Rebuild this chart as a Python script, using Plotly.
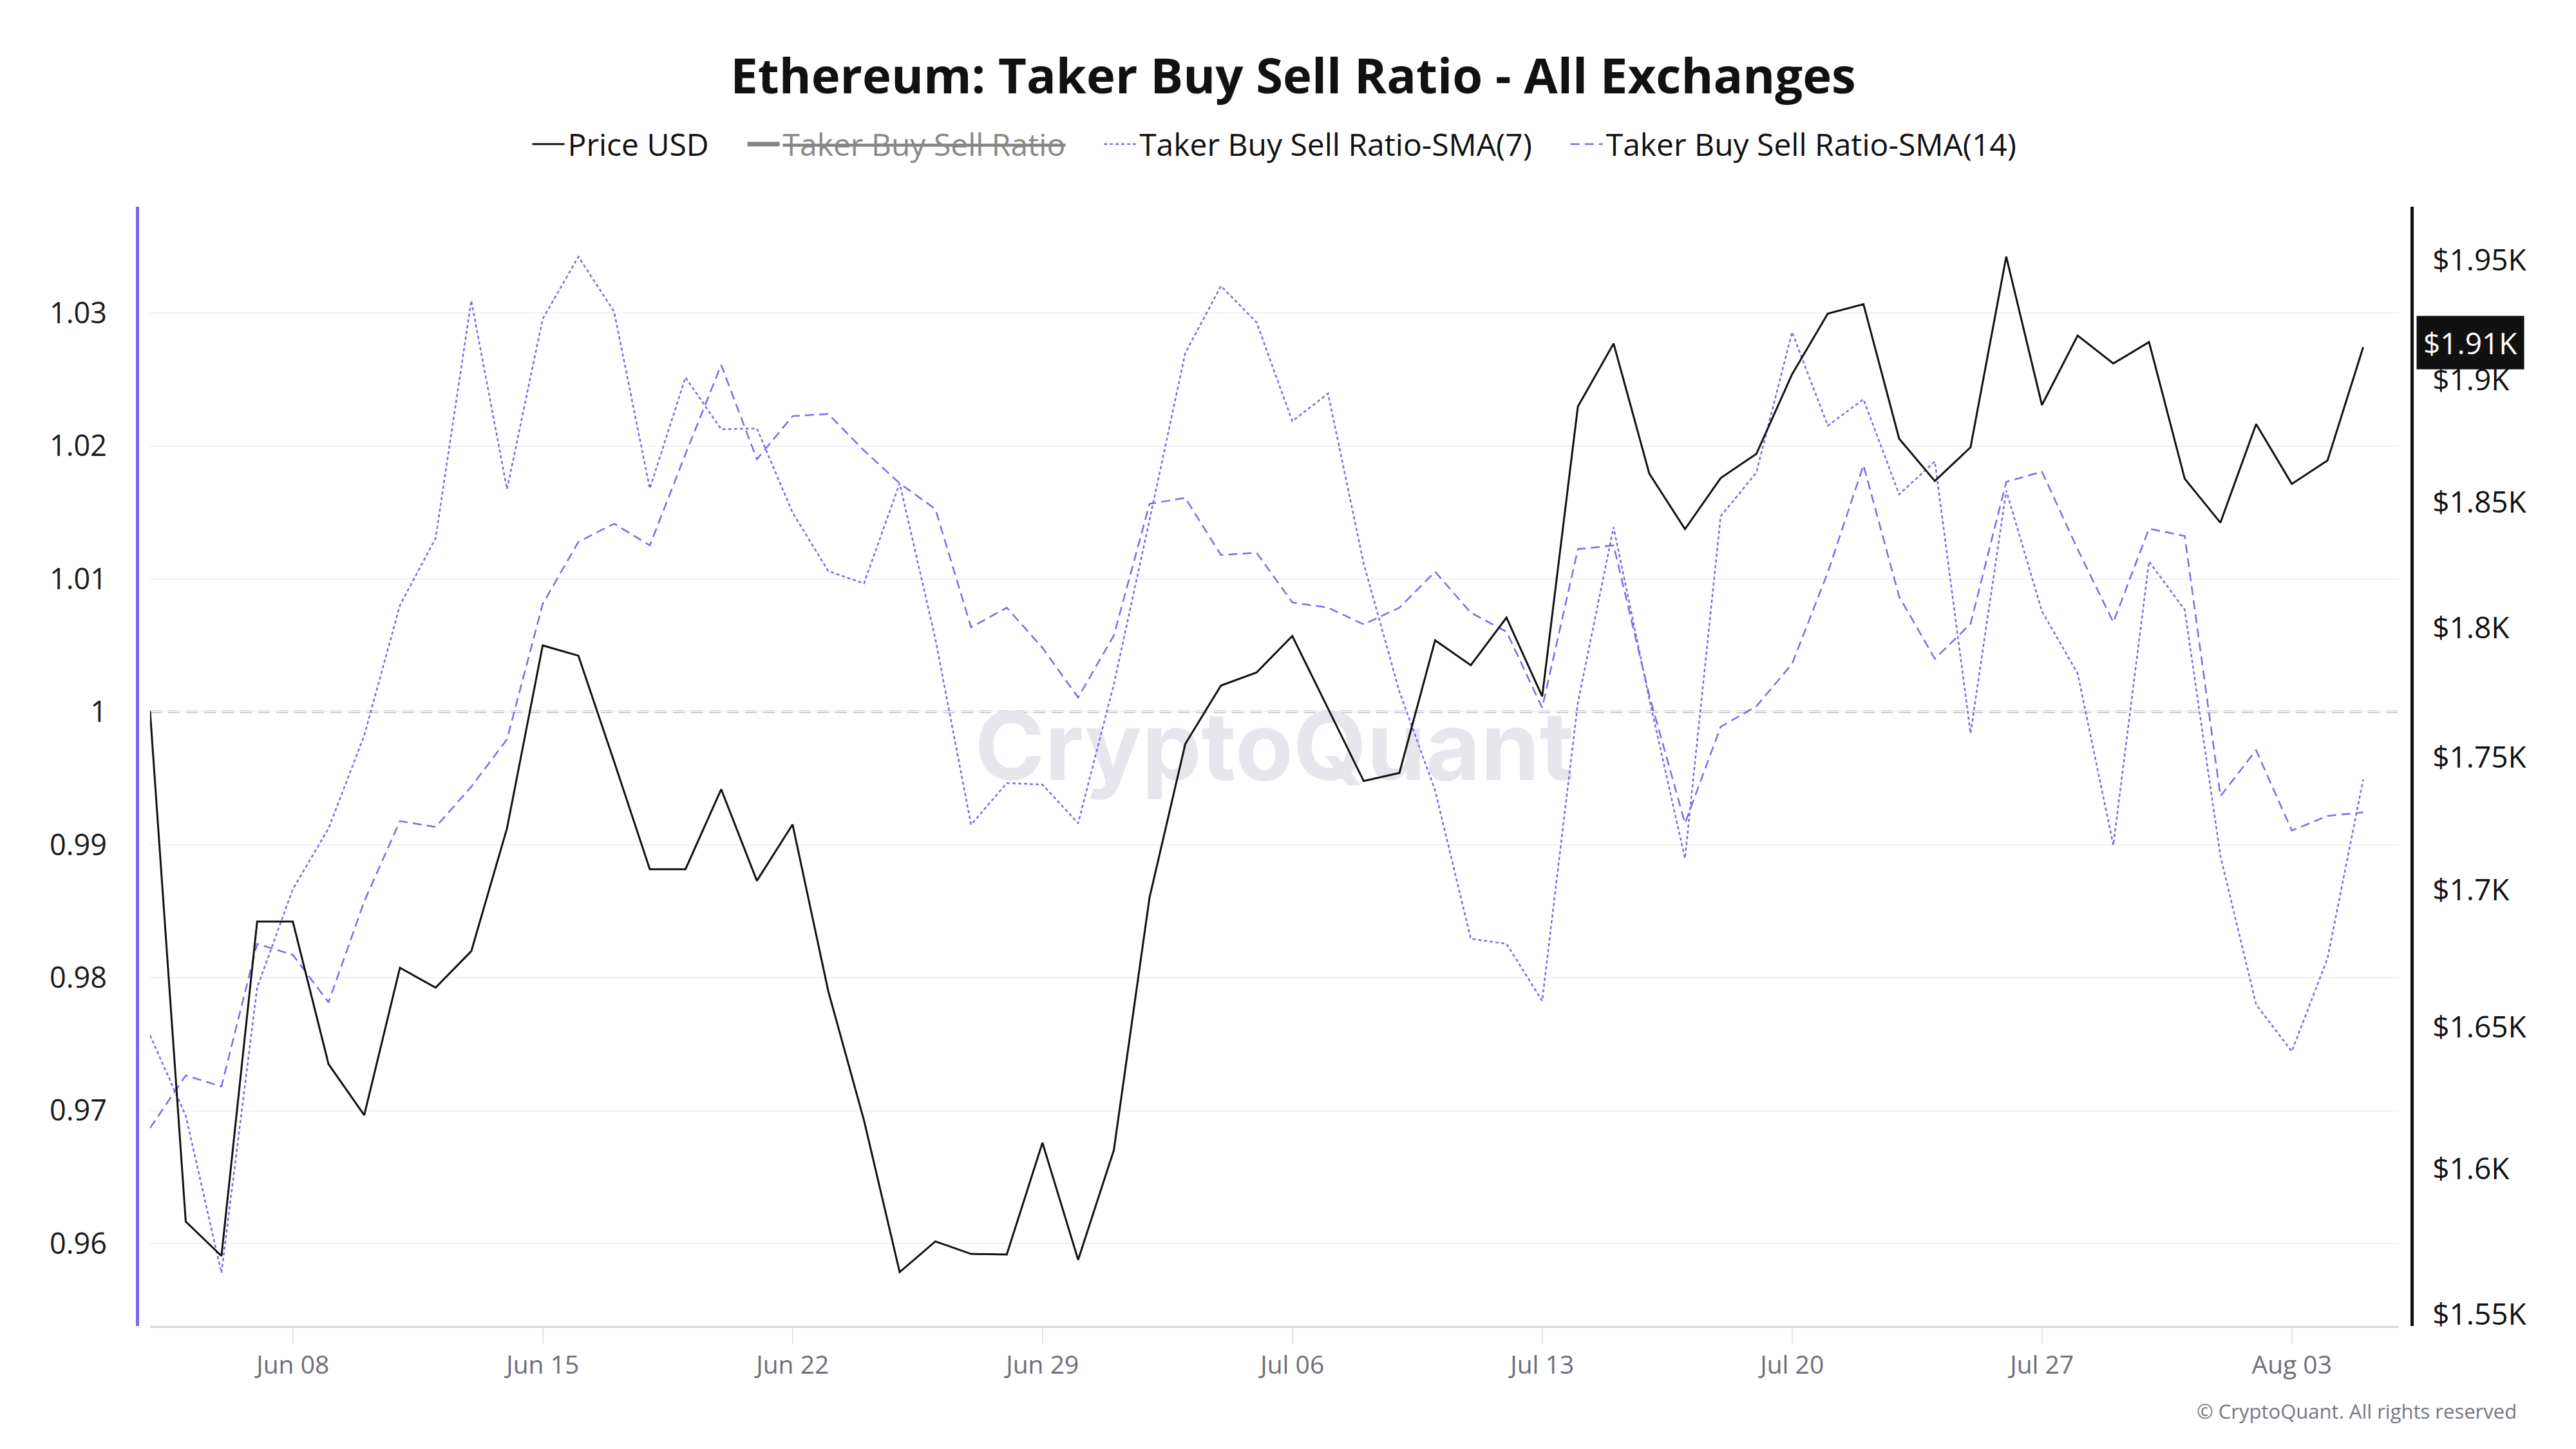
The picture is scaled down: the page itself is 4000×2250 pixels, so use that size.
import math
import pandas as pd
import plotly.graph_objects as go

# ---------------- data ----------------
start_date = "2023-06-04"

price_usd = [1767.6, 1581.6, 1569.8, 1688.4, 1688.4, 1636.8, 1618.7, 1671.5, 1664.3, 1677.6,
             1723.1, 1793.1, 1789.1, 1748.3, 1707.8, 1707.8, 1737.8, 1703.5, 1724.5, 1663.0,
             1616.9, 1564.3, 1574.8, 1570.5, 1570.3, 1609.0, 1568.5, 1606.4, 1697.3, 1755.0,
             1777.5, 1782.6, 1796.8, 1768.6, 1740.9, 1744.0, 1795.1, 1785.4, 1804.0, 1773.3,
             1888.9, 1915.0, 1861.5, 1839.1, 1859.7, 1869.5, 1902.2, 1927.5, 1931.5, 1875.7,
             1858.5, 1872.2, 1951.6, 1889.5, 1918.3, 1906.7, 1915.6, 1859.4, 1841.7, 1881.7,
             1857.3, 1866.8, 1913.5]

sma7 = [0.97567, 0.96962, 0.95780, 0.97925, 0.98667, 0.99123, 0.99822, 1.00801, 1.01307, 1.03094,
        1.01675, 1.02956, 1.03424, 1.03011, 1.01680, 1.02516, 1.02126, 1.02132, 1.01499, 1.01059,
        1.00966, 1.01719, 1.00548, 0.99151, 0.99464, 0.99453, 0.99162, 1.00207, 1.01444, 1.02698,
        1.03204, 1.02929, 1.02186, 1.02395, 1.01114, 1.00152, 0.99409, 0.98293, 0.98255, 0.97826,
        1.00069, 1.01389, 1.00097, 0.98898, 1.01471, 1.01801, 1.02857, 1.02153, 1.02351, 1.01636,
        1.01884, 0.99838, 1.01664, 1.00757, 1.00289, 0.98997, 1.01131, 1.00768, 0.98915, 0.97798,
        0.97446, 0.98145, 0.99492]

sma14 = [0.96869, 0.97265, 0.97182, 0.98255, 0.98172, 0.97815, 0.98574, 0.99178, 0.99134, 0.99437,
         0.99794, 1.00812, 1.01279, 1.01416, 1.01252, 1.01939, 1.02610, 1.01900, 1.02225, 1.02241,
         1.01966, 1.01719, 1.01526, 1.00636, 1.00784, 1.00482, 1.00108, 1.00575, 1.01565, 1.01609,
         1.01180, 1.01197, 1.00823, 1.00784, 1.00658, 1.00784, 1.01054, 1.00746, 1.00603, 1.00031,
         1.01224, 1.01252, 1.00124, 0.99162, 0.99888, 1.00042, 1.00361, 1.01048, 1.01856, 1.00867,
         1.00399, 1.00663, 1.01730, 1.01807, 1.01224, 1.00674, 1.01378, 1.01323, 0.99365, 0.99712,
         0.99107, 0.99217, 0.99244]

# hidden (legend-only) series: its values are not visible in the reference
taker_ratio = [None]

x_tick_dates = ["2023-06-08", "2023-06-15", "2023-06-22", "2023-06-29", "2023-07-06",
                "2023-07-13", "2023-07-20", "2023-07-27", "2023-08-03"]
x_tick_labels = ["Jun 08", "Jun 15", "Jun 22", "Jun 29", "Jul 06",
                 "Jul 13", "Jul 20", "Jul 27", "Aug 03"]

ratio_ticks = [0.96, 0.97, 0.98, 0.99, 1.00, 1.01, 1.02, 1.03]
ratio_tick_labels = ["0.96", "0.97", "0.98", "0.99", "1", "1.01", "1.02", "1.03"]

price_ticks = [1550, 1600, 1650, 1700, 1750, 1800, 1850, 1900, 1950]
price_tick_labels = ["$1.55K", "$1.6K", "$1.65K", "$1.7K", "$1.75K", "$1.8K", "$1.85K", "$1.9K", "$1.95K"]

dates = pd.date_range(start_date, periods=len(price_usd), freq="D")

# ---------------- styling ----------------
PURPLE = "#7b68ee"
FONT = "Open Sans"
W, H = 4000, 2250
ML, MR, MT, MB = 205, 263, 313, 199
GAP = "\u00a0" * 4  # spacing after each legend entry

x_range = [pd.Timestamp("2023-06-04"), pd.Timestamp("2023-08-06")]
y_range = [0.9538, 1.0380]
y2_range = [3.18922, 3.29511]  # log10 of price

plot_w = W - ML - MR
plot_h = H - MT - MB
dom0 = 20 / plot_w
dom1 = 1 - 20 / plot_w

fig = go.Figure()

# watermark (drawn first, below data lines)
wm_x = x_range[0] + (x_range[1] - x_range[0]) / 2
wm_y = y_range[0] + 0.509 * (y_range[1] - y_range[0])
fig.add_trace(go.Scatter(
    x=[wm_x], y=[wm_y], mode="text", text=["CryptoQuant"],
    textfont=dict(family="Inter", size=147, color="#e6e6ec", weight=700),
    showlegend=False, hoverinfo="skip", xaxis="x", yaxis="y"))

fig.add_trace(go.Scatter(
    x=dates, y=price_usd, name="Price USD" + GAP, mode="lines",
    line=dict(color="#111111", width=3), yaxis="y2"))

fig.add_trace(go.Scatter(
    x=dates[:len(taker_ratio)], y=taker_ratio, name="<s>Taker Buy Sell Ratio</s>" + GAP, mode="lines",
    line=dict(color="#0a0a14", width=7), visible="legendonly", yaxis="y"))

fig.add_trace(go.Scatter(
    x=dates, y=sma7, name="Taker Buy Sell Ratio-SMA(7)" + GAP, mode="lines",
    line=dict(color=PURPLE, width=2.5, dash="5px,4px"), yaxis="y"))

fig.add_trace(go.Scatter(
    x=dates, y=sma14, name="Taker Buy Sell Ratio-SMA(14)", mode="lines",
    line=dict(color=PURPLE, width=2.5, dash="14px,8px"), yaxis="y"))

# reference line at ratio = 1
fig.add_shape(type="line", xref="x domain", yref="y", x0=0, x1=1, y0=1, y1=1,
              line=dict(color="#bdbac9", width=4, dash="18px,10px"), layer="below")

# last price badge
last_price = price_usd[-1]
fig.add_annotation(
    xref="paper", yref="y2", x=1, y=math.log10(last_price), xanchor="left", yanchor="middle",
    xshift=7, yshift=7, text=f"${last_price / 1000:.2f}K", showarrow=False,
    font=dict(family=FONT, size=46, color="#ffffff"),
    bgcolor="#111111", borderpad=10)

# copyright
fig.add_annotation(
    xref="paper", yref="paper", x=(3902 - ML) / plot_w, y=-(2183 - (H - MB)) / plot_h,
    xanchor="right", yanchor="middle", showarrow=False,
    text="© CryptoQuant. All rights reserved",
    font=dict(family=FONT, size=31, color="#777782"))

fig.update_layout(
    width=W, height=H, autosize=False,
    margin=dict(l=ML, r=MR, t=MT, b=MB),
    paper_bgcolor="#ffffff", plot_bgcolor="#ffffff",
    font=dict(family=FONT, color="#1a1a1a"),
    title=dict(text="Ethereum: Taker Buy Sell Ratio - All Exchanges",
               x=0.5, xanchor="center", y=1 - 110 / H, yanchor="middle",
               font=dict(family=FONT, size=76, color="#111111", weight=700)),
    legend=dict(orientation="h", x=0.5, xanchor="center",
                y=(H - MB - 216) / plot_h, yanchor="middle",
                itemwidth=50,
                font=dict(family=FONT, size=48, color="#111111"),
                bgcolor="rgba(0,0,0,0)", itemclick=False, itemdoubleclick=False),
    xaxis=dict(type="date", range=x_range, domain=[dom0, dom1], anchor="y",
               tickvals=x_tick_dates, ticktext=x_tick_labels,
               showgrid=False, zeroline=False,
               showline=True, linecolor="#d6d6de", linewidth=3,
               ticks="outside", ticklen=24, tickwidth=2, tickcolor="#e2e2e8",
               ticklabelstandoff=0,
               tickfont=dict(family=FONT, size=39, color="#6e6e7a")),
    yaxis=dict(range=y_range, anchor="free", position=0, side="left",
               tickvals=ratio_ticks, ticktext=ratio_tick_labels,
               showgrid=True, gridcolor="#f1f1f3", gridwidth=2, zeroline=False,
               showline=True, linecolor=PURPLE, linewidth=5,
               ticks="", ticklabelstandoff=36,
               tickfont=dict(family=FONT, size=45, color="#1a1a1a")),
    yaxis2=dict(type="log", range=y2_range, overlaying="y", anchor="free", position=1, side="right",
                tickvals=price_ticks, ticktext=price_tick_labels,
                showgrid=False, zeroline=False,
                showline=True, linecolor="#111111", linewidth=5,
                ticks="", ticklabelstandoff=20,
                tickfont=dict(family=FONT, size=46, color="#111111")),
    showlegend=True,
    hovermode=False,
)

fig.write_html("out.html")
